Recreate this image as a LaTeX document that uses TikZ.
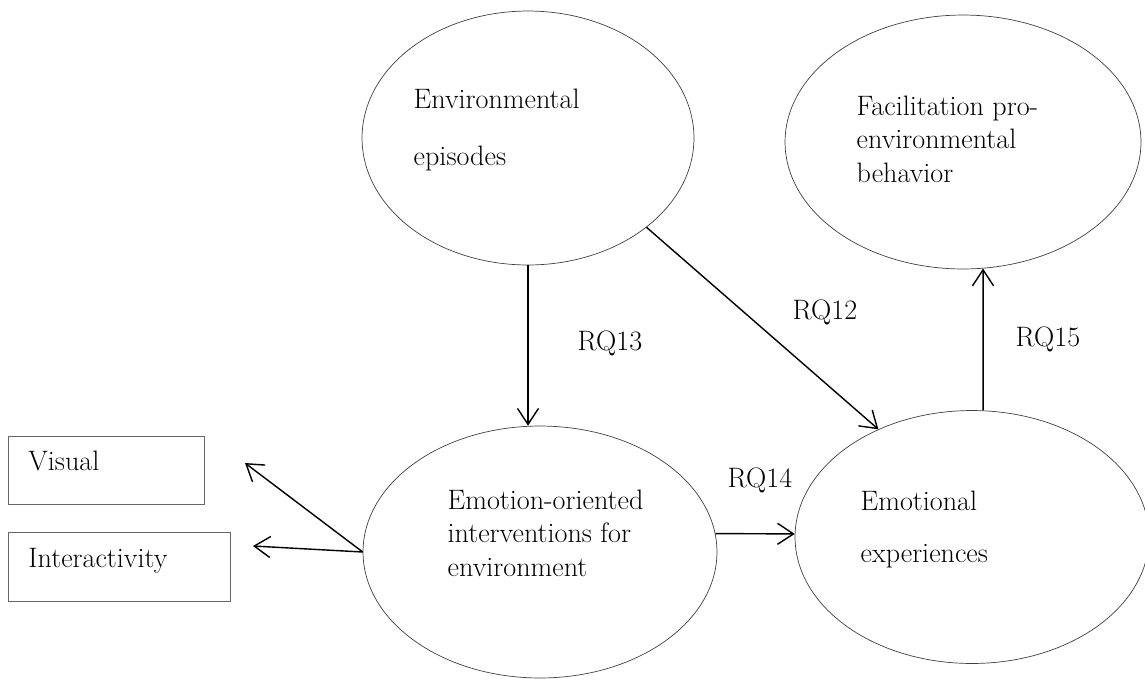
\documentclass[tikz,border=0pt]{standalone}
\usepackage{tikz}
\usetikzlibrary{arrows.meta,positioning,shapes.geometric}

\begin{document}
\begin{tikzpicture}[x=0.02cm, y=-0.02cm, >={Straight Barb[length=0.32cm,width=0.42cm]},
  every node/.style={font=\fontsize{16}{18.8}\selectfont},
  blob/.style={draw=black!75, line width=0.4pt, ellipse, inner sep=0pt},
  inside/.style={align=left, anchor=base west, inner sep=0pt},
  optbox/.style={draw=black!60, line width=0.5pt, anchor=base west, align=left, inner xsep=0.4cm, inner ysep=0pt},
  rq/.style={anchor=base west, inner sep=0pt},
  every path/.style={line width=0.8pt}]
\useasboundingbox (0,0) rectangle (1145,680);
\node[blob, minimum width=6.64cm, minimum height=5.08cm] (env) at (528,138) {};
\node[blob, minimum width=7.12cm, minimum height=5.08cm] (fac) at (963,142) {};
\node[blob, minimum width=7.08cm, minimum height=5.04cm] (emoint) at (540,552) {};
\node[blob, minimum width=7.08cm, minimum height=5.06cm] (emot) at (972,537) {};
% base anchor sits on the last line
\node[inside, font=\fontsize{16}{32.4}\selectfont] (envtxt) at (413,165) {Environmental\\episodes};
\node[inside] (factxt) at (856,182) {Facilitation pro-\\environmental\\behavior};
\node[inside] (emointtxt) at (447,576) {Emotion-oriented\\interventions for\\environment};
\node[inside, font=\fontsize{16}{29.6}\selectfont] (emottxt) at (860,562) {Emotional\\experiences};
\node[optbox, text width=3.12cm, text height=0.68cm, text depth=0.68cm] (visual) at (8,470) {Visual};
\node[optbox, text width=3.64cm, text height=0.7cm, text depth=0.68cm] (inter) at (8,567) {Interactivity};
\coordinate (tovis) at (245,463);
\coordinate (toint) at (253,546);
\draw[->] (env.south) -- (env.south |- emoint.north);\draw[->] (env.-37) -- (emot.131);
\draw[->] (emot.85) -- (fac.-81);\draw[->] (emoint.6) -- (emot.179);
\draw[->] (emoint.west) -- (tovis);\draw[->] (emoint.west) -- (toint);
\node[rq] (rq13) at (577,350) {RQ13};
\node[rq] (rq12) at (792,319) {RQ12};
\node[rq] (rq15) at (1015,346) {RQ15};
\node[rq] (rq14) at (727,487) {RQ14};
\end{tikzpicture}
\end{document}
